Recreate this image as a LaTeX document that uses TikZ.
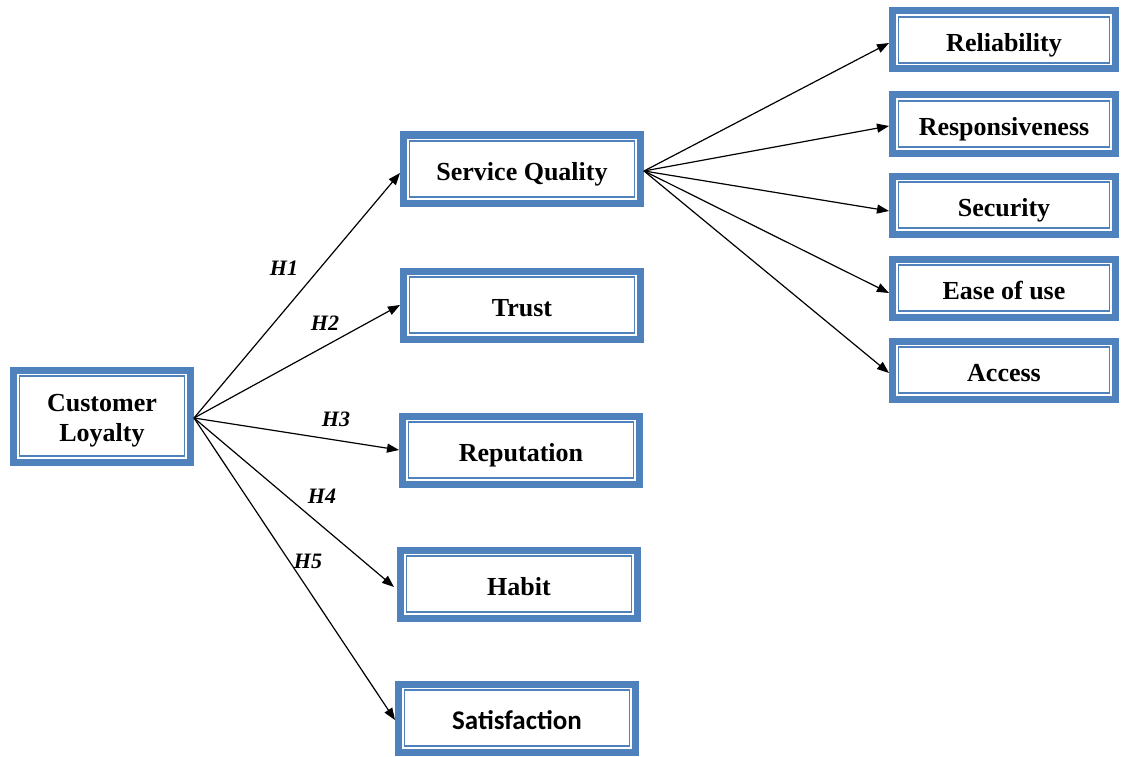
\documentclass[tikz,border=0pt]{standalone}
\usepackage{fontspec}
\setmainfont{Liberation Serif}
\newfontfamily\carlito{Carlito}
\usetikzlibrary{arrows.meta}
\definecolor{boxblue}{HTML}{4F81BD}
\begin{document}
\begin{tikzpicture}[x=1pt,y=-1pt,
  box/.style={draw=boxblue,line width=7pt,fill=white,inner sep=0pt,
    font=\fontsize{26}{30}\selectfont\bfseries,text=black,align=center},
  midbox/.style={box,minimum width=237pt,minimum height=68pt,text height=25pt,text depth=2pt},
  rtbox/.style={box,minimum width=223pt,minimum height=58pt,text height=25pt,text depth=2pt},
  innerframe/.style={draw=boxblue,line width=1.6pt},
  arr/.style={line width=1.2pt,-{Triangle[length=12pt,width=9pt]}},
  hlab/.style={font=\fontsize{22}{24}\selectfont\bfseries\itshape,text=black,inner sep=0pt}]
\useasboundingbox[fill=white] (0,0) rectangle (1121,757);

\node[box,minimum width=177pt,minimum height=92pt] (cl) at (102,416) {\rule{0pt}{26pt}Customer\\Loyalty};

\node[midbox] (sq) at (522,169) {Service Quality};
\node[midbox] (tr) at (522,305) {Trust};
\node[midbox] (rep) at (521,450) {Reputation};
\node[midbox] (hab) at (519,584) {Habit};
\node[midbox,font=\fontsize{27}{30}\selectfont\bfseries\carlito] (sat) at (517,718) {Satisfaction};

\node[rtbox] (rel) at (1004,40) {Reliability};
\node[rtbox] (res) at (1004,124) {Responsiveness};
\node[rtbox] (sec) at (1004,205) {Security};
\node[rtbox] (eas) at (1004,288) {Ease of use};
\node[rtbox] (acc) at (1004,370) {Access};

\foreach \n in {cl,sq,tr,rep,hab,sat,rel,res,sec,eas,acc}
  \draw[innerframe] ([shift={(9.5pt,-9.5pt)}]\n.north west) rectangle ([shift={(-9.5pt,9.5pt)}]\n.south east);

\draw[arr] ([yshift=-2pt]cl.east) -- ([yshift=-4pt]sq.west);
\draw[arr] ([yshift=-2pt]cl.east) -- (tr.west);
\draw[arr] ([yshift=-2pt]cl.east) -- (rep.west);
\draw[arr] ([yshift=-2pt]cl.east) -- ([xshift=-3pt,yshift=-3pt]hab.west);
\draw[arr] ([yshift=-2pt]cl.east) -- ([yshift=-2pt]sat.west);

\draw[arr] ([yshift=-2pt]sq.east) -- ([yshift=-3pt]rel.west);
\draw[arr] ([yshift=-2pt]sq.east) -- ([yshift=-2pt]res.west);
\draw[arr] ([yshift=-2pt]sq.east) -- ([yshift=-6pt]sec.west);
\draw[arr] ([yshift=-2pt]sq.east) -- ([yshift=-5pt]eas.west);
\draw[arr] ([yshift=-2pt]sq.east) -- ([yshift=-3pt]acc.west);

\node[hlab] (h1) at (284,268) {H1};
\node[hlab] (h2) at (325,323) {H2};
\node[hlab] (h3) at (336,419) {H3};
\node[hlab] (h4) at (322,496) {H4};
\node[hlab] (h5) at (308,561) {H5};
\end{tikzpicture}
\end{document}
